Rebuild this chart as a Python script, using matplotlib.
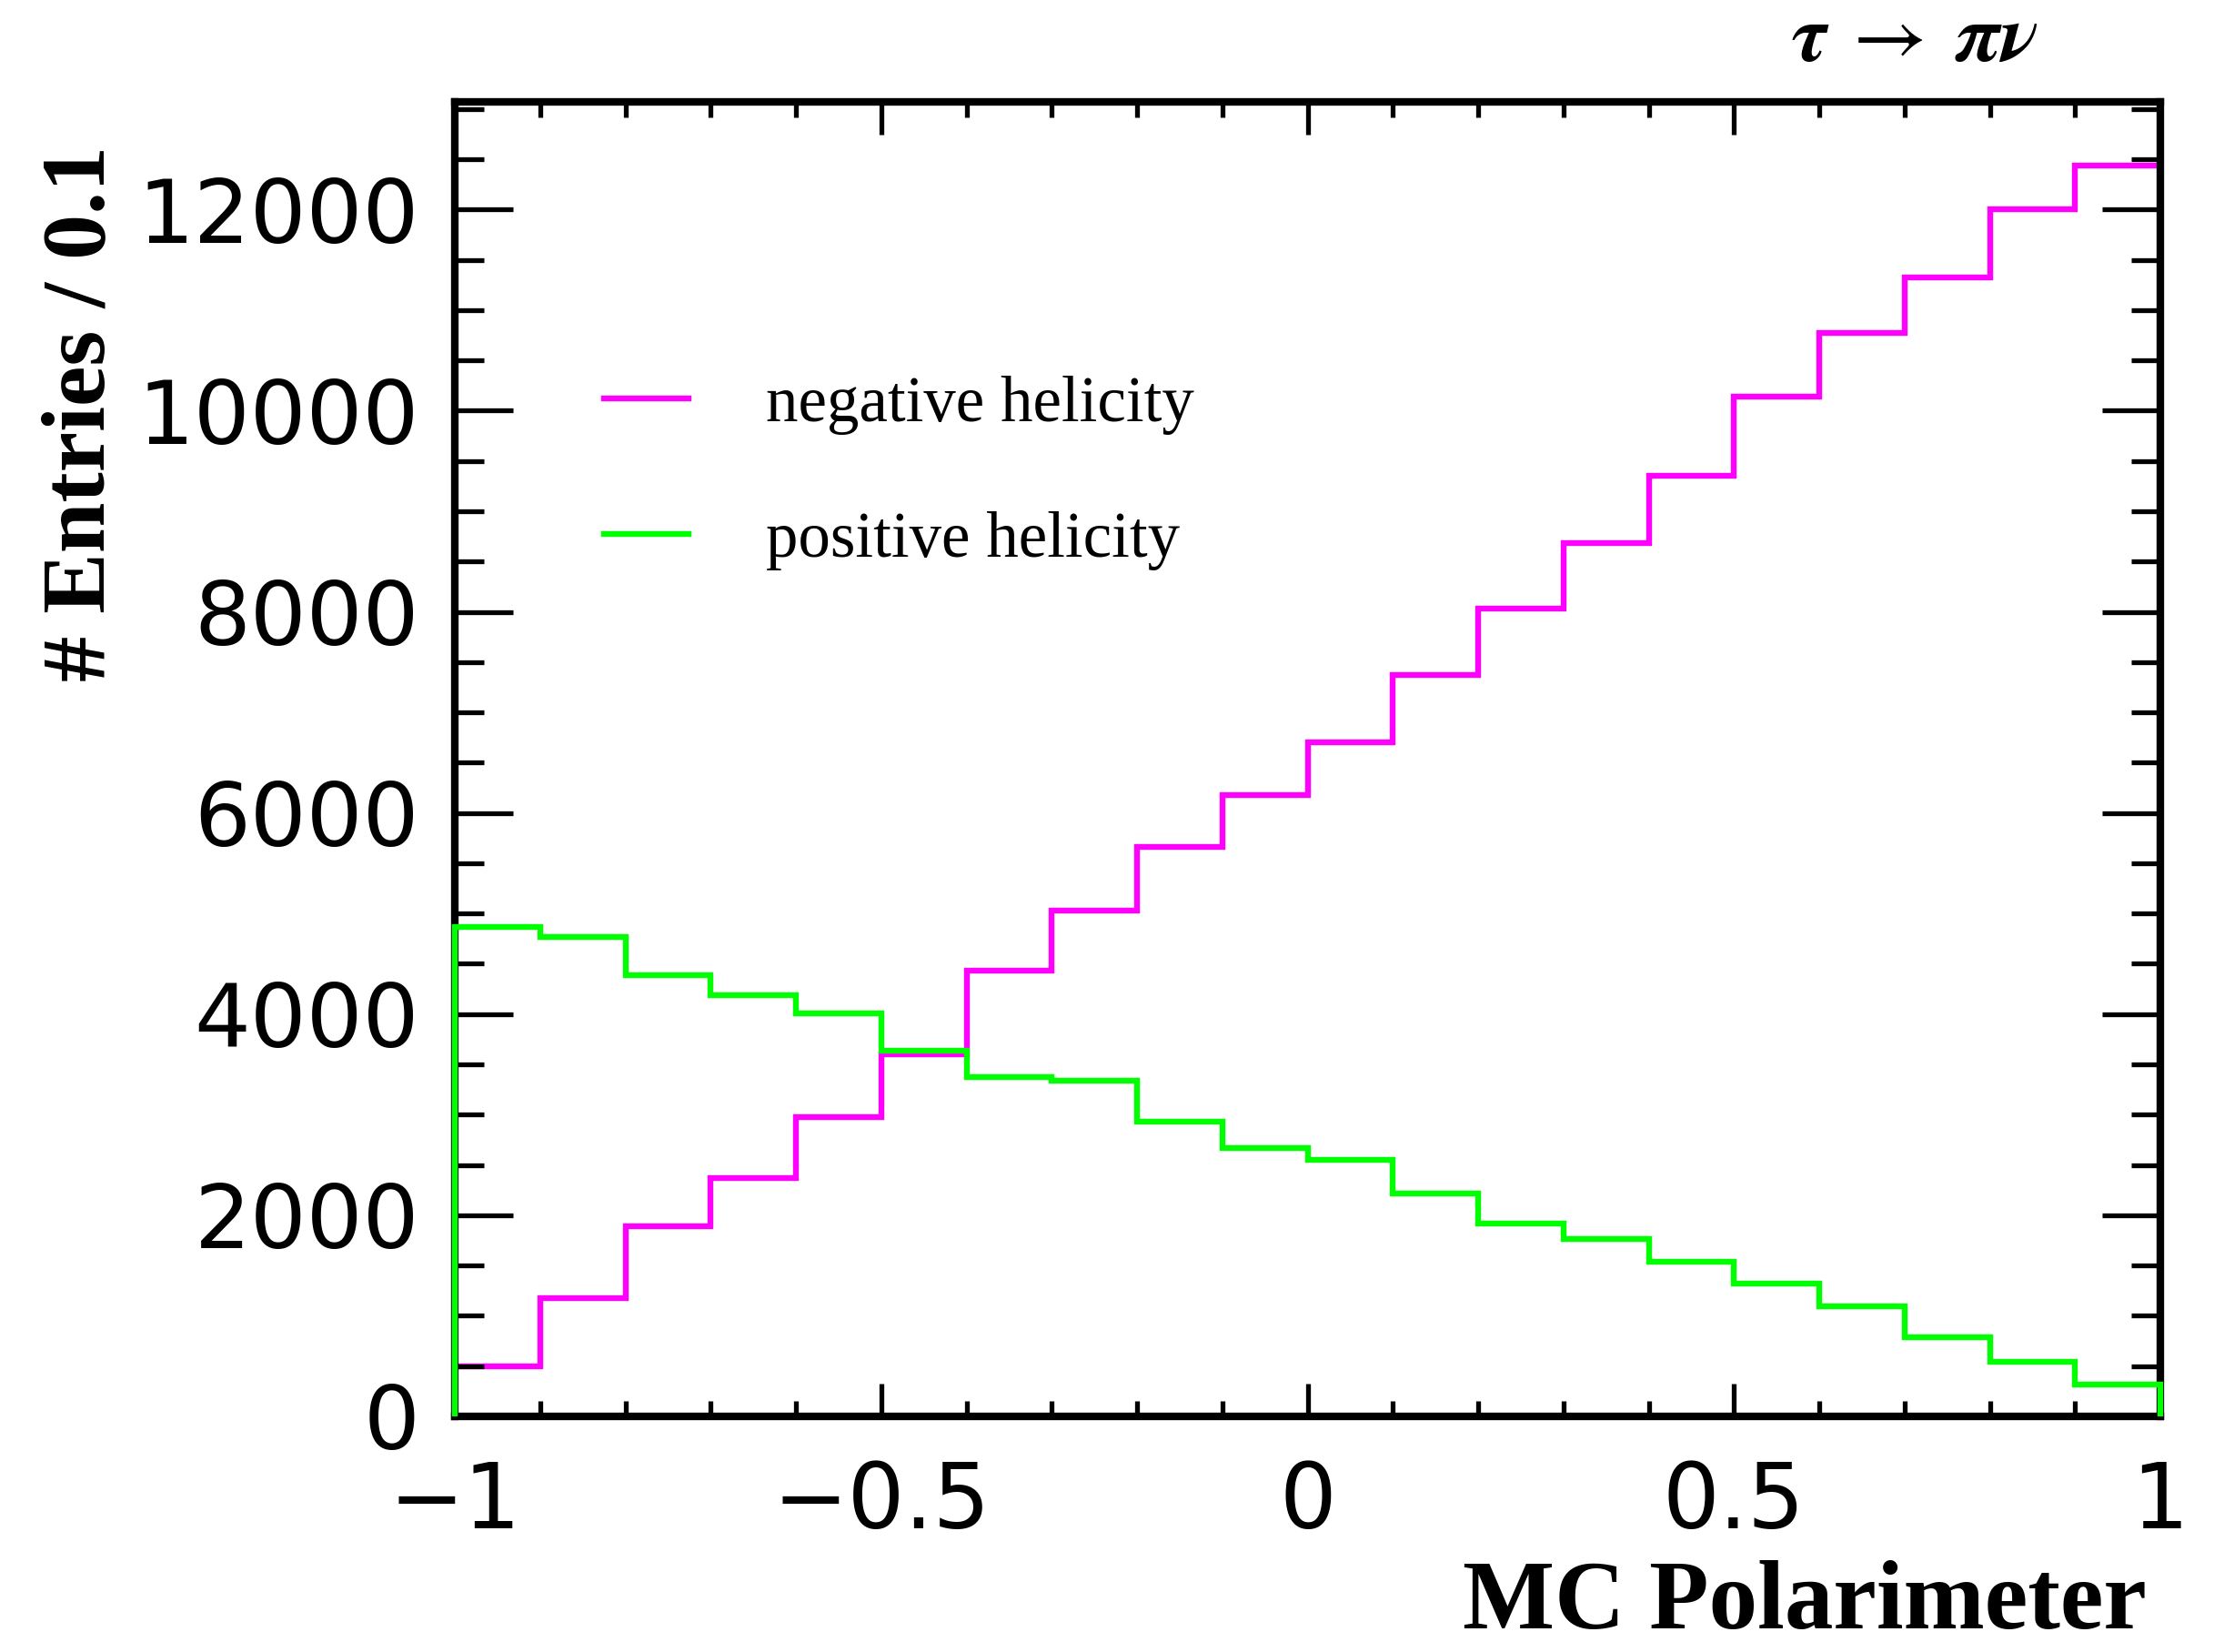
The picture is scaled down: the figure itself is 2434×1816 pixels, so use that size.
import numpy as np
import matplotlib
matplotlib.use("Agg")
import matplotlib.pyplot as plt
from matplotlib.ticker import MultipleLocator

# ---- data ----
bin_edges = np.round(np.arange(-1.0, 1.0001, 0.1), 2)
negative_helicity = [500, 1180, 1890, 2370, 2975, 3600, 4430, 5025, 5660, 6180,
                     6700, 7375, 8035, 8680, 9350, 10135, 10770, 11320, 12000, 12435]
positive_helicity = [4865, 4765, 4390, 4190, 4010, 3640, 3375, 3340, 2935, 2665,
                     2555, 2220, 1915, 1765, 1540, 1320, 1095, 790, 545, 315]
labels = ["negative helicity", "positive helicity"]
x_label = "MC Polarimeter"
y_label = "# Entries / 0.1"
title = r"$\boldsymbol{\tau}\;\rightarrow\;\boldsymbol{\pi\nu}$"

plt.rcParams["mathtext.fontset"] = "stix"

W, H = 2434, 1816
fig = plt.figure(figsize=(W / 100, H / 100), dpi=100)
ax = fig.add_axes([500 / W, 1 - 1557 / H, (2375 - 500) / W, (1557 - 112) / H])

ax.stairs(negative_helicity, bin_edges, baseline=0, color="#ff00ff", lw=4.6,
          zorder=2, clip_on=False, label=labels[0])
ax.stairs(positive_helicity, bin_edges, baseline=0, color="#00ff00", lw=4.6,
          zorder=3, clip_on=False, label=labels[1])

ax.set_xlim(-1, 1)
ax.set_ylim(0, 13070)
ax.set_axisbelow(False)

for s in ax.spines.values():
    s.set_linewidth(6.0)

ax.xaxis.set_major_locator(MultipleLocator(0.5))
ax.xaxis.set_minor_locator(MultipleLocator(0.1))
ax.yaxis.set_major_locator(MultipleLocator(2000))
ax.yaxis.set_minor_locator(MultipleLocator(500))

ax.tick_params(axis="both", which="both", direction="in", top=True, right=True, width=3.8)
ax.tick_params(axis="x", which="major", length=26, pad=34, labelsize=71)
ax.tick_params(axis="x", which="minor", length=12)
ax.tick_params(axis="y", which="major", length=46, pad=28, labelsize=70)
ax.tick_params(axis="y", which="minor", length=23)

ax.set_xticks([-1, -0.5, 0, 0.5, 1])
ax.set_xticklabels(["\u22121", "\u22120.5", "0", "0.5", "1"])
for t in ax.get_xticklabels() + ax.get_yticklabels():
    t.set_fontfamily("DejaVu Sans")

ax.set_xlabel(x_label, fontfamily="Liberation Serif", fontweight="bold", fontsize=77)
ax.xaxis.label.set_horizontalalignment("right")
ax.xaxis.label.set_verticalalignment("baseline")
ax.xaxis.set_label_coords((2360 - 500) / 1875, -(1790 - 1557) / 1445)

ax.set_ylabel(y_label, fontfamily="Liberation Serif", fontweight="bold", fontsize=72)
ax.yaxis.label.set_horizontalalignment("center")
ax.yaxis.label.set_verticalalignment("center")
ax.yaxis.set_label_coords((90 - 500) / 1875, (1557 - 455) / 1445)

leg = ax.legend(loc="upper left", bbox_to_anchor=((664 - 500) / 1875, (1557 - 413) / 1445),
                frameon=False, prop={"family": "Liberation Serif", "size": 51},
                handlelength=1.31, handletextpad=1.21, labelspacing=1.18,
                borderpad=0, borderaxespad=0)

fig.text(2240 / W, 1 - 42 / H, title, ha="right", va="center", fontsize=64)

fig.savefig("out.png", dpi=100)
